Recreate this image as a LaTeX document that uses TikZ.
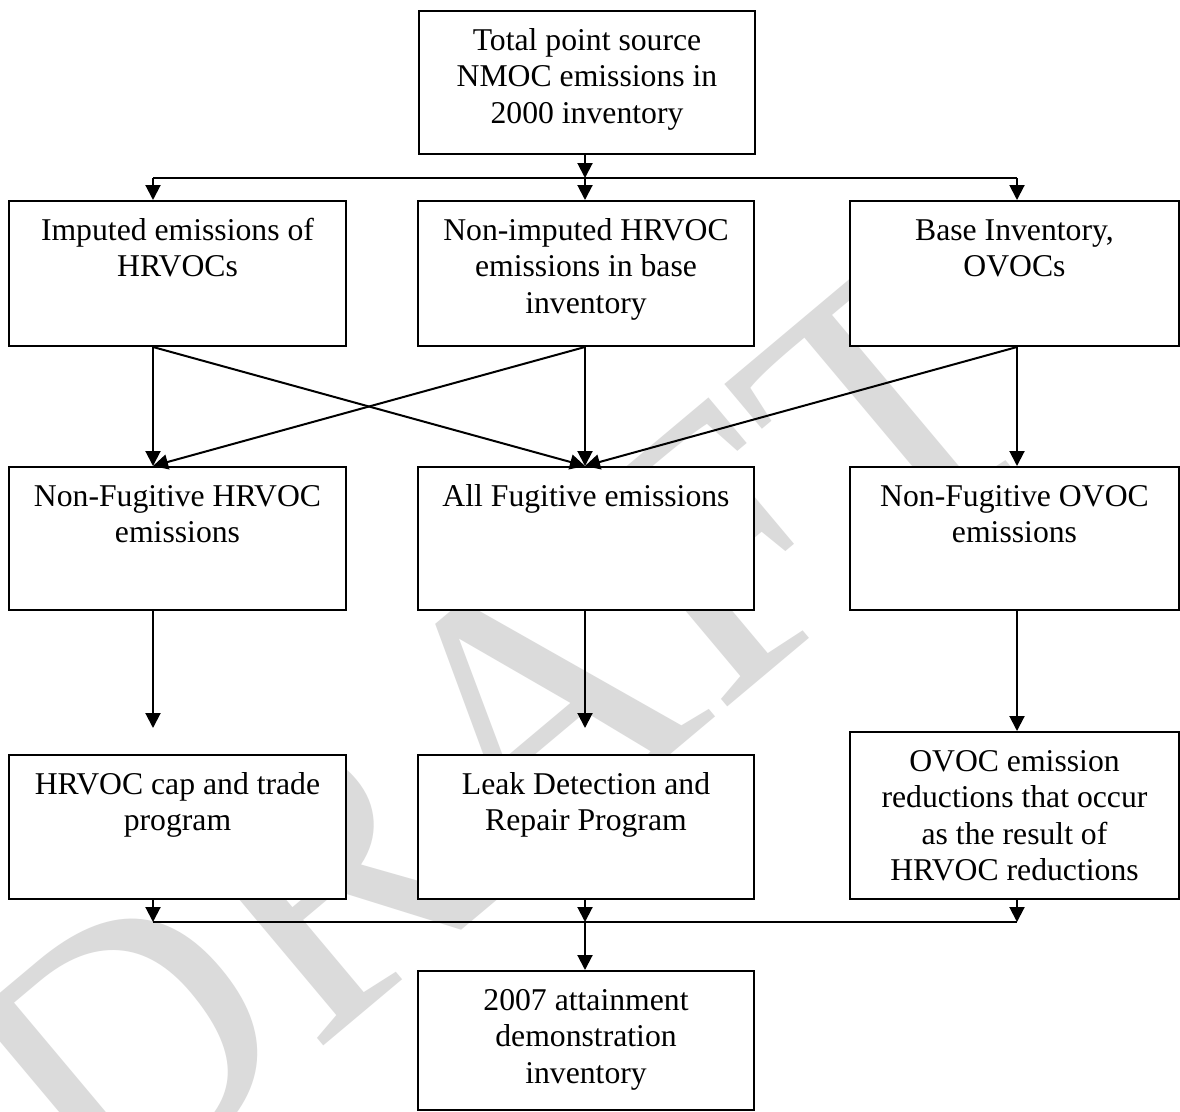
\documentclass[tikz,border=0pt]{standalone}
\usepackage{fontspec}
\setmainfont{Liberation Serif}
\usetikzlibrary{arrows.meta,calc}
\newfontfamily\wmfont{Liberation Serif}
\begin{document}
\begin{tikzpicture}[x=1pt,y=-1pt,
  box/.style={draw=black, line width=2pt, fill=white, inner sep=0pt, anchor=north west},
  lbl/.style={font=\fontsize{31.7}{36.5}\selectfont, align=center, inner sep=0pt, anchor=north},
  arr/.style={line width=2pt, -{Triangle[length=15pt,width=15pt]}},
  ln/.style={line width=2pt}]
\useasboundingbox (0,0) rectangle (1180,1111);
\fill[white] (0,0) rectangle (1180,1111);
% watermark
\node[rotate=40, text=black!14, font=\wmfont\fontsize{380}{380}\selectfont, inner sep=0pt] (wm) at (500,735) {DRAFT};
% column coordinates
\coordinate (cL) at (153,0);
\coordinate (cM) at (585,0);
\coordinate (cR) at (1017,0);
\coordinate (bus1) at (0,178);
\coordinate (stop) at (0,728);
\coordinate (bus2) at (0,922);
% boxes
\node[box, minimum width=336pt, minimum height=143pt] (top) at (418,10) {};
\node[box, minimum width=337pt, minimum height=145pt] (aL) at (8,200) {};
\node[box, minimum width=336pt, minimum height=145pt] (aM) at (417,200) {};
\node[box, minimum width=329pt, minimum height=145pt] (aR) at (849,200) {};
\node[box, minimum width=337pt, minimum height=143pt] (bL) at (8,466) {};
\node[box, minimum width=336pt, minimum height=143pt] (bM) at (417,466) {};
\node[box, minimum width=329pt, minimum height=143pt] (bR) at (849,466) {};
\node[box, minimum width=337pt, minimum height=144pt] (cLb) at (8,754) {};
\node[box, minimum width=336pt, minimum height=144pt] (cMb) at (417,754) {};
\node[box, minimum width=329pt, minimum height=167pt] (cRb) at (849,731) {};
\node[box, minimum width=336pt, minimum height=139pt] (bot) at (417,970) {};
% texts
\node[lbl] (topt) at ($(top.north)+(0,14.5)$) {\strut Total point source\\NMOC emissions in\\2000 inventory};
\node[lbl] (aLt) at ($(aL.north)+(0,14.5)$) {\strut Imputed emissions of\\HRVOCs};
\node[lbl] (aMt) at ($(aM.north)+(0,14.5)$) {\strut Non-imputed HRVOC\\emissions in base\\inventory};
\node[lbl] (aRt) at ($(aR.north)+(0,14.5)$) {\strut Base Inventory,\\OVOCs};
\node[lbl] (bLt) at ($(bL.north)+(0,14.5)$) {\strut Non-Fugitive HRVOC\\emissions};
\node[lbl] (bMt) at ($(bM.north)+(0,14.5)$) {\strut All Fugitive emissions};
\node[lbl] (bRt) at ($(bR.north)+(0,14.5)$) {\strut Non-Fugitive OVOC\\emissions};
\node[lbl] (cLt) at ($(cLb.north)+(0,14.5)$) {\strut HRVOC cap and trade\\program};
\node[lbl] (cMt) at ($(cMb.north)+(0,14.5)$) {\strut Leak Detection and\\Repair Program};
\node[lbl] (cRt) at ($(cRb.north)+(0,14.5)$) {\strut OVOC emission\\reductions that occur\\as the result of\\HRVOC reductions};
\node[lbl] (bott) at ($(bot.north)+(0,14.5)$) {\strut 2007 attainment\\demonstration\\inventory};
% top distribution
\draw[arr] (top.south -| cM) -- (bus1 -| cM);
\draw[ln] (bus1 -| cL) -- (bus1 -| cR);
\draw[arr] (bus1 -| cL) -- (aL.north -| cL);
\draw[arr] (bus1 -| cM) -- (aM.north -| cM);
\draw[arr] (bus1 -| cR) -- (aR.north -| cR);
% row 2 to row 3
\draw[arr] (aL.south -| cL) -- (bL.north -| cL);
\draw[arr] (aL.south -| cL) -- (bM.north -| cM);
\draw[arr] (aM.south -| cM) -- (bL.north -| cL);
\draw[arr] (aM.south -| cM) -- (bM.north -| cM);
\draw[arr] (aR.south -| cR) -- (bM.north -| cM);
\draw[arr] (aR.south -| cR) -- (bR.north -| cR);
% row 3 to row 4
\draw[arr] (bL.south -| cL) -- (stop -| cL);
\draw[arr] (bM.south -| cM) -- (stop -| cM);
\draw[arr] (bR.south -| cR) -- (cRb.north -| cR);
% bottom collection
\draw[arr] (cLb.south -| cL) -- (bus2 -| cL);
\draw[arr] (cMb.south -| cM) -- (bus2 -| cM);
\draw[arr] (cRb.south -| cR) -- (bus2 -| cR);
\draw[ln] (bus2 -| cL) -- (bus2 -| cR);
\draw[arr] (bus2 -| cM) -- (bot.north -| cM);
\end{tikzpicture}
\end{document}
